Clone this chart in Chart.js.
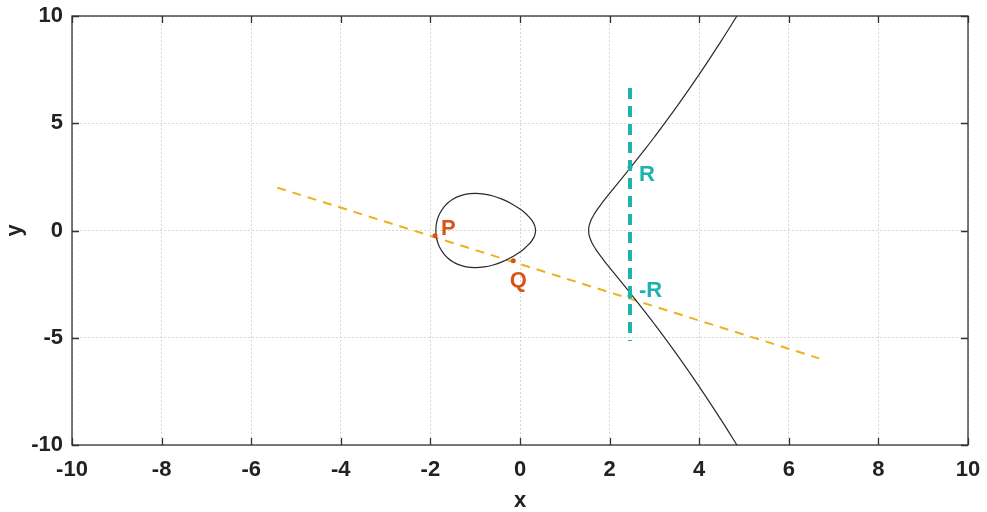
<!DOCTYPE html>
<html>
<head>
<meta charset="utf-8">
<script src="https://cdn.jsdelivr.net/npm/chart.js@4/dist/chart.umd.min.js"></script>
<style>
html,body{margin:0;padding:0;background:#fff;}
#wrap{width:987px;height:512px;position:relative;}
</style>
</head>
<body>
<div id="wrap"><canvas id="c" width="987" height="512"></canvas></div>
<script>
// Axis ticks
const xTicks = [-10,-8,-6,-4,-2,0,2,4,6,8,10];
const yTicks = [-10,-5,0,5,10];

// Closed loop of the curve (x, y)
const loopX = [-1.879,-1.87,-1.85,-1.8,-1.7,-1.6,-1.5,-1.4,-1.2,-1.0,-0.8,-0.6,-0.4,-0.2,0,0.1,0.2,0.25,0.3,0.33,0.347,
               0.33,0.3,0.25,0.2,0.1,0,-0.2,-0.4,-0.6,-0.8,-1.0,-1.2,-1.4,-1.5,-1.6,-1.7,-1.8,-1.85,-1.87,-1.879];
const loopY = [0,0.266,0.467,0.754,1.090,1.305,1.458,1.567,1.695,1.732,1.699,1.607,1.462,1.262,1.0,0.837,0.639,0.515,0.356,0.214,0,
               -0.214,-0.356,-0.515,-0.639,-0.837,-1.0,-1.262,-1.462,-1.607,-1.699,-1.732,-1.695,-1.567,-1.458,-1.305,-1.090,-0.754,-0.467,-0.266,0];

// Right branch of the curve (x, y), bottom to top
const branchX = [4.85,4.5,4.0,3.5,3.0,2.8,2.5,2.2,2.0,1.9,1.8,1.7,1.65,1.6,1.57,1.55,1.54,1.535,1.532,
                 1.535,1.54,1.55,1.57,1.6,1.65,1.7,1.8,1.9,2.0,2.2,2.5,2.8,3.0,3.5,4.0,4.5,4.85];
const branchY = [-10.03,-8.867,-7.280,-5.777,-4.359,-3.815,-3.021,-2.247,-1.732,-1.469,-1.197,-0.902,-0.736,-0.544,-0.400,-0.272,-0.180,-0.109,0,
                 0.109,0.180,0.272,0.400,0.544,0.736,0.902,1.197,1.469,1.732,2.247,3.021,3.815,4.359,5.777,7.280,8.867,10.03];

// Secant line through P and Q (dashed, orange)
const secantX = [-5.42, 6.68];
const secantY = [2.0, -5.96];

// Vertical line through R and -R (dashed, teal), top to bottom
const vertX = [2.455, 2.455];
const vertY = [6.64, -5.15];

// Marked points
const pqNames = ['P','Q'];
const pqX = [-1.897, -0.15];
const pqY = [-0.24, -1.41];
const rNames = ['R','-R'];
const rX = [2.455, 2.455];
const rY = [2.95, -3.05];

const ORANGE = '#EDB120';
const RED = '#D95319';
const TEAL = '#1DB3AC';
const FONT = "'Liberation Sans',Arial,sans-serif";

const pts = (xs, ys) => xs.map((x, i) => ({x: x, y: ys[i]}));

const boxPlugin = {
  id: 'box',
  afterDatasetsDraw(chart) {
    const {ctx, chartArea: a, scales} = chart;
    ctx.save();
    ctx.strokeStyle = '#333';
    ctx.lineWidth = 1.3;
    ctx.beginPath();
    xTicks.forEach(v => {
      const px = Math.round(scales.x.getPixelForValue(v)) + 0.5;
      ctx.moveTo(px, a.bottom); ctx.lineTo(px, a.bottom - 7);
      ctx.moveTo(px, a.top); ctx.lineTo(px, a.top + 7);
    });
    yTicks.forEach(v => {
      const py = Math.round(scales.y.getPixelForValue(v)) + 0.5;
      ctx.moveTo(a.left, py); ctx.lineTo(a.left + 7, py);
      ctx.moveTo(a.right, py); ctx.lineTo(a.right - 7, py);
    });
    ctx.stroke();
    ctx.strokeRect(a.left, a.top, a.right - a.left, a.bottom - a.top);
    // point labels
    ctx.font = "bold 22px " + FONT;
    ctx.textBaseline = 'middle';
    const lab = (name, x, y, dx, dy, col, align) => {
      ctx.fillStyle = col;
      ctx.textAlign = align;
      ctx.fillText(name, scales.x.getPixelForValue(x) + dx, scales.y.getPixelForValue(y) + dy);
    };
    lab(pqNames[0], pqX[0], pqY[0], 6, -7, RED, 'left');
    lab(pqNames[1], pqX[1], pqY[1], 5, 20, RED, 'center');
    lab(rNames[0], rX[0], rY[0], 9, 8, TEAL, 'left');
    lab(rNames[1], rX[1], rY[1], 9, -5, TEAL, 'left');
    ctx.restore();
  }
};

new Chart(document.getElementById('c'), {
  type: 'scatter',
  data: {
    datasets: [
      {data: pts(secantX, secantY), showLine: true, borderColor: ORANGE, borderWidth: 2, borderDash: [9, 7], pointRadius: 0, order: 5},
      {data: pts(loopX, loopY), showLine: true, borderColor: '#2a2a2a', borderWidth: 1.2, tension: 0.3, pointRadius: 0, order: 4},
      {data: pts(branchX, branchY), showLine: true, borderColor: '#2a2a2a', borderWidth: 1.2, tension: 0.3, pointRadius: 0, order: 3},
      {data: pts(vertX, vertY), showLine: true, borderColor: TEAL, borderWidth: 4, borderDash: [11, 7], pointRadius: 0, order: 2},
      {data: pts(pqX, pqY), showLine: false, pointRadius: 2.5, pointBackgroundColor: RED, pointBorderColor: RED, borderWidth: 0, order: 1},
      {data: pts(rX, rY), showLine: false, pointRadius: 2.5, pointBackgroundColor: TEAL, pointBorderColor: TEAL, borderWidth: 0, order: 0}
    ]
  },
  options: {
    responsive: false,
    animation: false,
    devicePixelRatio: 1,
    layout: {padding: {left: 0, right: 19, top: 16, bottom: 0}},
    plugins: {legend: {display: false}, tooltip: {enabled: false}},
    scales: {
      x: {
        type: 'linear', min: -10, max: 10,
        afterBuildTicks: s => { s.ticks = xTicks.map(v => ({value: v})); },
        afterFit: s => { s.height = 67; s.paddingLeft = 0; s.paddingRight = 0; },
        grid: {color: '#d6d6d6', lineWidth: 1, drawTicks: false, tickLength: 0},
        border: {display: false, dash: [2, 2]},
        ticks: {color: '#222', font: {family: FONT, size: 22, weight: 'bold'}, padding: 12, maxRotation: 0},
        title: {display: true, text: 'x', color: '#222', font: {family: FONT, size: 22, weight: 'bold'}, padding: {top: 0, bottom: -2}}
      },
      y: {
        type: 'linear', min: -10, max: 10,
        afterBuildTicks: s => { s.ticks = yTicks.map(v => ({value: v})); },
        afterFit: s => { s.width = 72; s.paddingTop = 0; s.paddingBottom = 0; },
        grid: {color: '#d6d6d6', lineWidth: 1, drawTicks: false, tickLength: 0},
        border: {display: false, dash: [2, 2]},
        ticks: {color: '#222', font: {family: FONT, size: 22, weight: 'bold'}, padding: 9},
        title: {display: true, text: 'y', color: '#222', font: {family: FONT, size: 22, weight: 'bold'}, padding: {top: 2, bottom: 0}}
      }
    }
  },
  plugins: [boxPlugin]
});
</script>
</body>
</html>
